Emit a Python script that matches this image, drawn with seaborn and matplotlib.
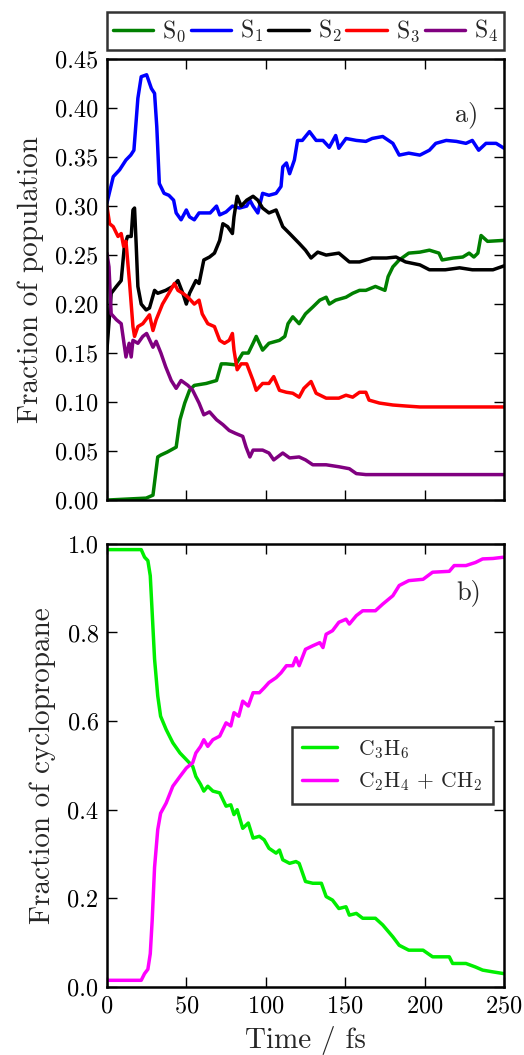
import pandas as pd
import numpy as np
import matplotlib
matplotlib.use("Agg")
import matplotlib.pyplot as plt
import seaborn as sns

# ---- panel a: state populations (time in fs, fraction) ----
s0_t = [0, 24.7, 29, 32, 34, 38, 43.6, 46, 49, 52, 55, 62.5, 69, 72, 75, 81, 85.5, 89, 92, 94, 98, 102,
        108.6, 112, 114, 117, 121, 125, 129.6, 134, 138, 140, 144, 150.5, 154.7, 159, 163, 169, 175, 177,
        180, 184, 190, 197, 203, 209, 211, 218, 224, 228, 231, 233.5, 235.5, 239.6, 250]
s0_v = [0, 0.002, 0.005, 0.044, 0.046, 0.049, 0.054, 0.082, 0.099, 0.112, 0.117, 0.119, 0.122, 0.139,
        0.139, 0.138, 0.15, 0.15, 0.16, 0.167, 0.153, 0.16, 0.163, 0.167, 0.18, 0.187, 0.18, 0.19, 0.197,
        0.204, 0.207, 0.2, 0.204, 0.207, 0.211, 0.214, 0.214, 0.218, 0.214, 0.228, 0.238, 0.245, 0.252,
        0.253, 0.255, 0.252, 0.245, 0.247, 0.248, 0.252, 0.248, 0.252, 0.27, 0.264, 0.265]

s1_t = [0, 4, 8, 12, 15, 17, 19.5, 21.6, 25, 28, 30, 31.4, 33, 36, 39, 42, 43.6, 46.7, 50, 52, 55, 58, 65,
        69, 71, 75, 79, 83.5, 88, 90, 92, 95, 98, 102, 106.5, 109.6, 110.7, 113, 115, 118, 120, 123,
        127.5, 131.7, 136, 140, 144, 146, 150.5, 157, 163, 167, 173.6, 180, 184, 190, 197, 203, 207,
        213.6, 220, 226, 230, 234, 238.6, 245, 250]
s1_v = [0.303, 0.33, 0.337, 0.347, 0.352, 0.357, 0.41, 0.432, 0.434, 0.42, 0.415, 0.381, 0.323, 0.313,
        0.311, 0.306, 0.293, 0.286, 0.296, 0.289, 0.286, 0.293, 0.293, 0.3, 0.291, 0.294, 0.3, 0.298,
        0.3, 0.306, 0.3, 0.293, 0.313, 0.311, 0.313, 0.32, 0.34, 0.344, 0.333, 0.347, 0.367, 0.367,
        0.376, 0.367, 0.367, 0.36, 0.372, 0.359, 0.369, 0.367, 0.366, 0.369, 0.371, 0.364, 0.352,
        0.354, 0.352, 0.357, 0.364, 0.367, 0.366, 0.364, 0.367, 0.357, 0.364, 0.364, 0.359]

s2_t = [0, 2.7, 6, 9, 11, 13, 15.3, 16.4, 17.4, 18.4, 19.5, 21.6, 24.7, 26.8, 30, 32, 37, 41.5, 44.7,
        47.8, 50, 52, 56, 58, 61, 64.6, 67.7, 71, 73, 76, 79, 80, 82, 84.5, 88, 92, 95, 98, 102, 106.5,
        110.7, 115, 121, 125, 128.5, 132.7, 138, 146, 152.6, 159, 167, 176, 182, 188, 197, 203, 213,
        222, 230, 243, 250]
s2_v = [0.153, 0.211, 0.218, 0.224, 0.259, 0.269, 0.269, 0.296, 0.298, 0.262, 0.218, 0.2, 0.194, 0.196,
        0.214, 0.211, 0.214, 0.218, 0.224, 0.211, 0.2, 0.211, 0.224, 0.221, 0.245, 0.248, 0.252, 0.265,
        0.282, 0.279, 0.272, 0.289, 0.31, 0.3, 0.306, 0.31, 0.306, 0.298, 0.293, 0.296, 0.279, 0.272,
        0.262, 0.255, 0.247, 0.253, 0.25, 0.252, 0.243, 0.243, 0.247, 0.247, 0.248, 0.243, 0.24, 0.235,
        0.235, 0.237, 0.235, 0.235, 0.239]

s3_t = [0, 1.7, 4, 7, 9, 10.5, 12, 14.3, 16.4, 17.4, 19.5, 22.6, 26.8, 29, 31, 35, 39, 42.5, 44.7, 47.8,
        51, 55, 58, 60, 63.5, 67.7, 71, 74, 77, 79, 80, 82, 84.5, 88, 92, 94, 98, 102, 105, 108.6, 113,
        117, 121, 124, 128.5, 131.7, 138, 146, 150.5, 154.7, 159, 163, 165, 171.5, 180, 188, 197, 250]
s3_v = [0.3, 0.282, 0.279, 0.269, 0.272, 0.259, 0.264, 0.221, 0.177, 0.167, 0.177, 0.18, 0.189, 0.173,
        0.184, 0.2, 0.211, 0.221, 0.214, 0.211, 0.207, 0.2, 0.204, 0.19, 0.18, 0.177, 0.163, 0.16, 0.163,
        0.17, 0.153, 0.133, 0.139, 0.139, 0.122, 0.112, 0.119, 0.119, 0.126, 0.112, 0.11, 0.109, 0.105,
        0.114, 0.121, 0.109, 0.104, 0.104, 0.107, 0.105, 0.11, 0.11, 0.102, 0.099, 0.097, 0.096, 0.095,
        0.095]

s4_t = [0, 1.3, 2.7, 6, 9, 10.5, 12, 14, 15.3, 16.4, 19.5, 22.6, 25, 27, 29, 31, 34, 37, 40.5, 43.6, 46.7,
        51, 54, 58, 61, 64.6, 69, 73, 77, 81, 85.5, 87.6, 90, 92, 98, 102, 105, 110.7, 115, 121, 125,
        129.6, 138, 146, 152.6, 157, 163, 250]
s4_v = [0.252, 0.238, 0.19, 0.184, 0.18, 0.163, 0.146, 0.16, 0.146, 0.163, 0.16, 0.167, 0.17, 0.163,
        0.156, 0.162, 0.15, 0.136, 0.122, 0.114, 0.122, 0.117, 0.112, 0.099, 0.087, 0.09, 0.082, 0.077,
        0.071, 0.068, 0.065, 0.054, 0.044, 0.051, 0.051, 0.048, 0.041, 0.048, 0.043, 0.044, 0.041,
        0.036, 0.036, 0.034, 0.032, 0.027, 0.026, 0.026]

state_labels = [r"S$_0$", r"S$_1$", r"S$_2$", r"S$_3$", r"S$_4$"]
state_colors = ["green", "blue", "black", "red", "purple"]

# ---- panel b: cyclopropane fraction ----
c3h6_t = [0, 21.6, 23.7, 25.8, 27.3, 28.5, 30, 32, 33.8, 37.3, 41.5, 46, 50, 54, 56, 59, 61, 63.5, 66.7,
          71, 75, 78, 80, 82, 85.5, 89, 92, 96, 99, 102, 106.5, 108.6, 110.7, 115, 119, 121, 125, 129.6,
          135, 138, 142, 146, 150.5, 152.6, 157, 161, 169, 173.6, 180, 184, 190, 199, 205, 215.5, 217.6,
          226, 232, 236.5, 243, 250]
c3h6_v = [0.987, 0.987, 0.97, 0.962, 0.928, 0.845, 0.74, 0.657, 0.611, 0.581, 0.551, 0.528, 0.513,
          0.498, 0.475, 0.457, 0.442, 0.453, 0.442, 0.438, 0.408, 0.411, 0.389, 0.4, 0.358, 0.37, 0.336,
          0.34, 0.332, 0.313, 0.302, 0.309, 0.287, 0.279, 0.283, 0.279, 0.238, 0.234, 0.234, 0.204,
          0.196, 0.177, 0.181, 0.162, 0.166, 0.155, 0.155, 0.14, 0.113, 0.094, 0.083, 0.083, 0.068,
          0.068, 0.053, 0.053, 0.045, 0.038, 0.034, 0.03]

c2h4_t = [0, 21.6, 23.7, 25.8, 27.3, 28.5, 30, 32, 33.8, 37.3, 41.5, 46, 50, 54, 56, 59, 61, 63.5, 66.7,
          71, 75, 78, 80, 83, 85.5, 89, 92, 96, 99, 102, 106.5, 109.6, 113, 117, 119, 121, 125, 129.6,
          134, 136, 138, 142, 146, 150.5, 152.6, 157, 161, 169, 173.6, 180, 184, 190, 199, 205, 215.5,
          218.6, 226, 232, 236.5, 243, 250]
c2h4_v = [0.015, 0.015, 0.03, 0.04, 0.075, 0.15, 0.27, 0.355, 0.392, 0.415, 0.453, 0.475, 0.494,
          0.506, 0.528, 0.543, 0.558, 0.543, 0.558, 0.566, 0.596, 0.589, 0.619, 0.611, 0.645, 0.634,
          0.664, 0.664, 0.675, 0.687, 0.698, 0.709, 0.725, 0.725, 0.743, 0.725, 0.762, 0.77, 0.777,
          0.766, 0.796, 0.804, 0.823, 0.83, 0.819, 0.838, 0.849, 0.849, 0.864, 0.883, 0.906, 0.917,
          0.92, 0.936, 0.938, 0.951, 0.951, 0.958, 0.966, 0.967, 0.97]

product_labels = [r"C$_3$H$_6$", r"C$_2$H$_4$ + CH$_2$"]
product_colors = ["#00ee00", "magenta"]

sns.set_style("ticks")
plt.rcParams["font.family"] = ["cmr10", "DejaVu Serif"]
plt.rcParams["mathtext.fontset"] = "cm"
plt.rcParams["axes.formatter.use_mathtext"] = True
plt.rcParams["axes.unicode_minus"] = False

fig = plt.figure(figsize=(5.24, 10.55), dpi=100)
ax_a = fig.add_axes([0.204, 0.526, 0.758, 0.418])
ax_b = fig.add_axes([0.204, 0.0645, 0.758, 0.42])

states = [(s0_t, s0_v), (s1_t, s1_v), (s2_t, s2_v), (s3_t, s3_v), (s4_t, s4_v)]
for (t, v), lab, col in zip(states, state_labels, state_colors):
    df = pd.DataFrame({"t": t, "v": v})
    sns.lineplot(data=df, x="t", y="v", ax=ax_a, color=col, label=lab, lw=2.5, estimator=None)

products = [(c3h6_t, c3h6_v), (c2h4_t, c2h4_v)]
for (t, v), lab, col in zip(products, product_labels, product_colors):
    df = pd.DataFrame({"t": t, "v": v})
    sns.lineplot(data=df, x="t", y="v", ax=ax_b, color=col, label=lab, lw=2.5, estimator=None)

ax_a.set_xlim(0, 250)
ax_a.set_ylim(0, 0.45)
ax_a.set_yticks(np.arange(0, 0.451, 0.05))
ax_a.set_yticklabels([f"{y:.2f}" for y in np.arange(0, 0.451, 0.05)])
ax_a.set_xticks([0, 50, 100, 150, 200, 250])
ax_a.set_xticklabels([])
ax_a.set_xlabel("")
ax_a.set_ylabel("Fraction of population", fontsize=21, labelpad=8)
ax_a.text(0.907, 0.873, "a)", transform=ax_a.transAxes, fontsize=19, ha="center", va="center")

ax_b.set_xlim(0, 250)
ax_b.set_ylim(0, 1.0)
ax_b.set_yticks(np.arange(0, 1.01, 0.2))
ax_b.set_yticklabels([f"{y:.1f}" for y in np.arange(0, 1.01, 0.2)])
ax_b.set_xticks([0, 50, 100, 150, 200, 250])
ax_b.set_xlabel("Time / fs", fontsize=21, labelpad=6)
ax_b.set_ylabel("Fraction of cyclopropane", fontsize=21, labelpad=8)
ax_b.text(0.91, 0.89, "b)", transform=ax_b.transAxes, fontsize=19, ha="center", va="center")

for ax in (ax_a, ax_b):
    for sp in ax.spines.values():
        sp.set_visible(True)
        sp.set_linewidth(1.8)
        sp.set_color("black")
    ax.tick_params(direction="in", top=True, right=True, length=7, width=1,
                   labelsize=17.5, pad=6, colors="black")

leg_a = ax_a.legend(loc="lower left", bbox_to_anchor=(0, 1.02, 1, 0.08), mode="expand", ncol=5,
                    fontsize=17, frameon=True, fancybox=False, edgecolor="black",
                    handlelength=1.7, handletextpad=0.4, columnspacing=0.9, borderaxespad=0,
                    borderpad=0.25)
leg_a.get_frame().set_linewidth(1.8)

leg_b = ax_b.legend(loc="center right", bbox_to_anchor=(0.972, 0.5), fontsize=15.5, frameon=True,
                    fancybox=False, edgecolor="black", handlelength=1.6, handletextpad=1.0,
                    borderpad=0.5, labelspacing=0.45, borderaxespad=0)
leg_b.get_frame().set_linewidth(1.8)

fig.savefig("out.png", dpi=100)
